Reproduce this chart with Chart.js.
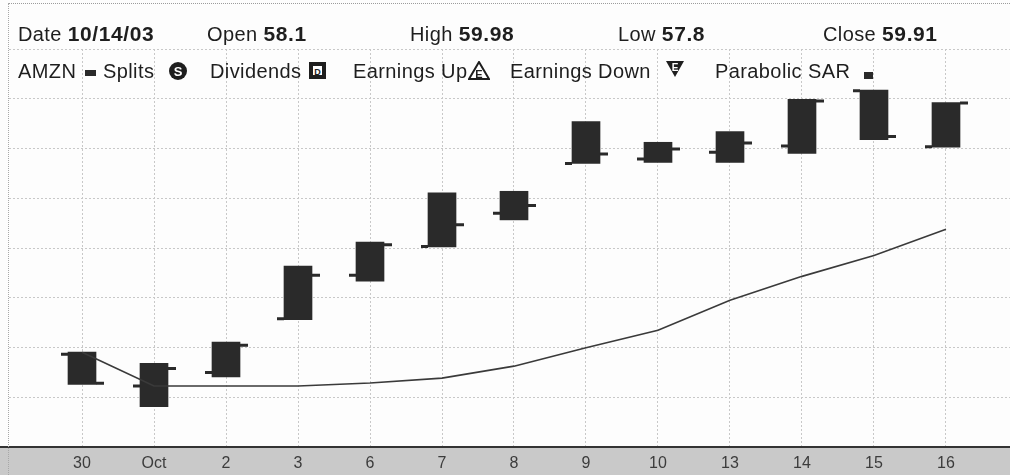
<!DOCTYPE html>
<html>
<head>
<meta charset="utf-8">
<title>AMZN</title>
<script src="https://cdn.jsdelivr.net/npm/chart.js@4.4.0/dist/chart.umd.min.js"></script>
<style>
    html, body { margin: 0; padding: 0; background: #fff; }
    #wrap { position: relative; width: 1010px; height: 475px; overflow: hidden; background: #fdfdfd; }
    #wrap canvas { position: absolute; left: 0; top: 0; }
    .lbl { position: absolute; font-family: "Liberation Sans", Arial, sans-serif; font-size: 20px; line-height: 20px; letter-spacing: 0.4px; color: #1e1e1e; white-space: nowrap; }
    .lbl b { font-weight: bold; font-size: 21px; letter-spacing: 0.6px; }
    .ico { position: absolute; }
    #topline { position: absolute; left: 8px; right: 0; top: 3px; border-top: 1px dotted #9c9c9c; }
    #leftline { position: absolute; left: 8px; top: 3px; bottom: 0; border-left: 1px dotted #a8a8a8; }
</style>
</head>
<body>
<div id="wrap">
    <canvas id="priceChart" width="1010" height="475"></canvas>
    <div id="topline"></div>
    <div id="leftline"></div>

    <!-- quote row -->
    <div class="lbl" style="left:18px; top:24px;">Date <b>10/14/03</b></div>
    <div class="lbl" style="left:207px; top:24px;">Open <b>58.1</b></div>
    <div class="lbl" style="left:410px; top:24px;">High <b>59.98</b></div>
    <div class="lbl" style="left:618px; top:24px;">Low <b>57.8</b></div>
    <div class="lbl" style="left:823px; top:24px;">Close <b>59.91</b></div>

    <!-- legend row -->
    <div class="lbl" style="left:18px; top:61px;">AMZN</div>
    <svg class="ico" style="left:85px; top:70px;" width="11" height="6"><rect x="0" y="0" width="11" height="6" fill="#2a2a2a"/></svg>
    <div class="lbl" style="left:103px; top:61px;">Splits</div>
    <svg class="ico" style="left:168px; top:61px;" width="20" height="20">
        <circle cx="10" cy="10" r="9" fill="#1e1e1e"/>
        <text x="10" y="15" font-family="Liberation Sans, Arial" font-size="13" font-weight="bold" fill="#fff" text-anchor="middle">S</text>
    </svg>
    <div class="lbl" style="left:210px; top:61px;">Dividends</div>
    <svg class="ico" style="left:309px; top:62px;" width="17" height="17">
        <rect x="0" y="0" width="17" height="17" fill="#1e1e1e"/>
        <rect x="4" y="4" width="9" height="9" fill="#fff"/>
        <text x="8.5" y="12.5" font-family="Liberation Sans, Arial" font-size="9" font-weight="bold" fill="#1e1e1e" text-anchor="middle">D</text>
    </svg>
    <div class="lbl" style="left:353px; top:61px;">Earnings Up</div>
    <svg class="ico" style="left:468px; top:61px;" width="22" height="19">
        <polygon points="11,1 21,18 1,18" fill="#fff" stroke="#1e1e1e" stroke-width="2"/>
        <text x="11" y="17" font-family="Liberation Sans, Arial" font-size="11" font-weight="bold" fill="#1e1e1e" text-anchor="middle">E</text>
    </svg>
    <div class="lbl" style="left:510px; top:61px;">Earnings Down</div>
    <svg class="ico" style="left:665px; top:60px;" width="20" height="18">
        <polygon points="1,1 19,1 10,17" fill="#1e1e1e"/>
        <text x="10" y="11" font-family="Liberation Sans, Arial" font-size="10" font-weight="bold" fill="#fff" text-anchor="middle">E</text>
    </svg>
    <div class="lbl" style="left:715px; top:61px;">Parabolic SAR</div>
    <svg class="ico" style="left:864px; top:72px;" width="9" height="7"><rect x="0" y="0" width="9" height="7" fill="#2a2a2a"/></svg>
</div>

<script>
// trading days, Sep 30 - Oct 16 2003
const days = ['30', 'Oct', '2', '3', '6', '7', '8', '9', '10', '13', '14', '15', '16'];

const opens  = [49.73, 48.45, 49.00, 51.16, 52.90, 54.06, 55.40, 57.40, 57.58, 57.85, 58.10, 60.32, 58.07];
const highs  = [49.82, 49.36, 50.22, 53.27, 54.24, 56.22, 56.28, 59.08, 58.25, 58.68, 59.98, 60.35, 59.85];
const lows   = [48.52, 47.62, 48.82, 51.12, 52.67, 54.04, 55.13, 57.40, 57.44, 57.44, 57.80, 58.36, 58.05];
const closes = [48.56, 49.16, 50.09, 52.90, 54.13, 54.93, 55.71, 57.78, 57.98, 58.22, 59.91, 58.48, 59.83];

// parabolic SAR per day
const sar    = [49.81, 48.45, 48.45, 48.45, 48.57, 48.77, 49.25, 49.99, 50.69, 51.90, 52.86, 53.70, 54.75];

// price grid, every $2
const priceGrid = [46, 48, 50, 52, 54, 56, 58, 60, 62];

const BAR_W = 28;
const INK = '#2a2a2a';

// gray band under the plot for the date labels, with the dark rule on top
const axisBand = {
    id: 'axisBand',
    beforeDraw(chart) {
        const { ctx, chartArea } = chart;
        ctx.save();
        ctx.fillStyle = '#c9c9c9';
        ctx.fillRect(0, chartArea.bottom, chart.width, chart.height - chartArea.bottom);
        ctx.restore();
    },
    afterDraw(chart) {
        const { ctx, chartArea } = chart;
        ctx.save();
        ctx.fillStyle = '#333';
        ctx.fillRect(0, chartArea.bottom - 1, chart.width, 2);
        ctx.restore();
    }
};

// open tick on the left, close tick on the right of each box
const ocTicks = {
    id: 'ocTicks',
    afterDatasetsDraw(chart) {
        const { ctx } = chart;
        const xs = chart.scales.x, ys = chart.scales.y;
        ctx.save();
        ctx.strokeStyle = INK;
        ctx.lineWidth = 3;
        ctx.lineCap = 'butt';
        days.forEach(function(d, i) {
            const x = xs.getPixelForValue(i);
            const yo = ys.getPixelForValue(opens[i]);
            const yc = ys.getPixelForValue(closes[i]);
            ctx.beginPath();
            ctx.moveTo(x - BAR_W / 2 - 7, yo);
            ctx.lineTo(x - BAR_W / 2, yo);
            ctx.moveTo(x + BAR_W / 2, yc);
            ctx.lineTo(x + BAR_W / 2 + 8, yc);
            ctx.stroke();
        });
        ctx.restore();
    }
};

const ctx = document.getElementById('priceChart');

new Chart(ctx, {
    type: 'bar',
    data: {
        datasets: [
            {
                type: 'line',
                label: 'Parabolic SAR',
                data: sar.map((v, i) => ({ x: i, y: v })),
                borderColor: '#3a3a3a',
                borderWidth: 1.6,
                pointRadius: 0,
                tension: 0,
                order: 0
            },
            {
                label: 'AMZN',
                data: days.map((d, i) => ({ x: i, y: [lows[i], highs[i]] })),
                backgroundColor: INK,
                borderWidth: 0,
                barThickness: BAR_W,
                order: 1
            }
        ]
    },
    options: {
        responsive: false,
        animation: false,
        layout: { padding: { top: 49, left: 9, right: 0, bottom: 0 } },
        plugins: {
            legend: { display: false },
            tooltip: { enabled: false }
        },
        scales: {
            x: {
                type: 'linear',
                offset: false,
                min: -1.014,
                max: 12.889,
                afterBuildTicks: function(scale) {
                    scale.ticks = days.map((d, i) => ({ value: i }));
                },
                afterFit: function(scale) { scale.height = 28; },
                ticks: {
                    autoSkip: false,
                    maxRotation: 0,
                    padding: 7,
                    color: '#3c3c3c',
                    font: { family: 'Liberation Sans, Arial, sans-serif', size: 16 },
                    callback: function(v) { return days[v]; }
                },
                grid: {
                    offset: false,
                    color: '#c8c8c8',
                    lineWidth: 1,
                    drawTicks: false
                },
                border: { display: false, dash: [2, 2] }
            },
            y: {
                min: 46,
                max: 62,
                afterBuildTicks: function(scale) {
                    scale.ticks = priceGrid.map(v => ({ value: v }));
                },
                afterFit: function(scale) { scale.width = 0; },
                ticks: { display: false },
                grid: {
                    color: '#c8c8c8',
                    lineWidth: 1,
                    drawTicks: false
                },
                border: { display: false, dash: [2, 2] }
            }
        }
    },
    plugins: [axisBand, ocTicks]
});
</script>
</body>
</html>
